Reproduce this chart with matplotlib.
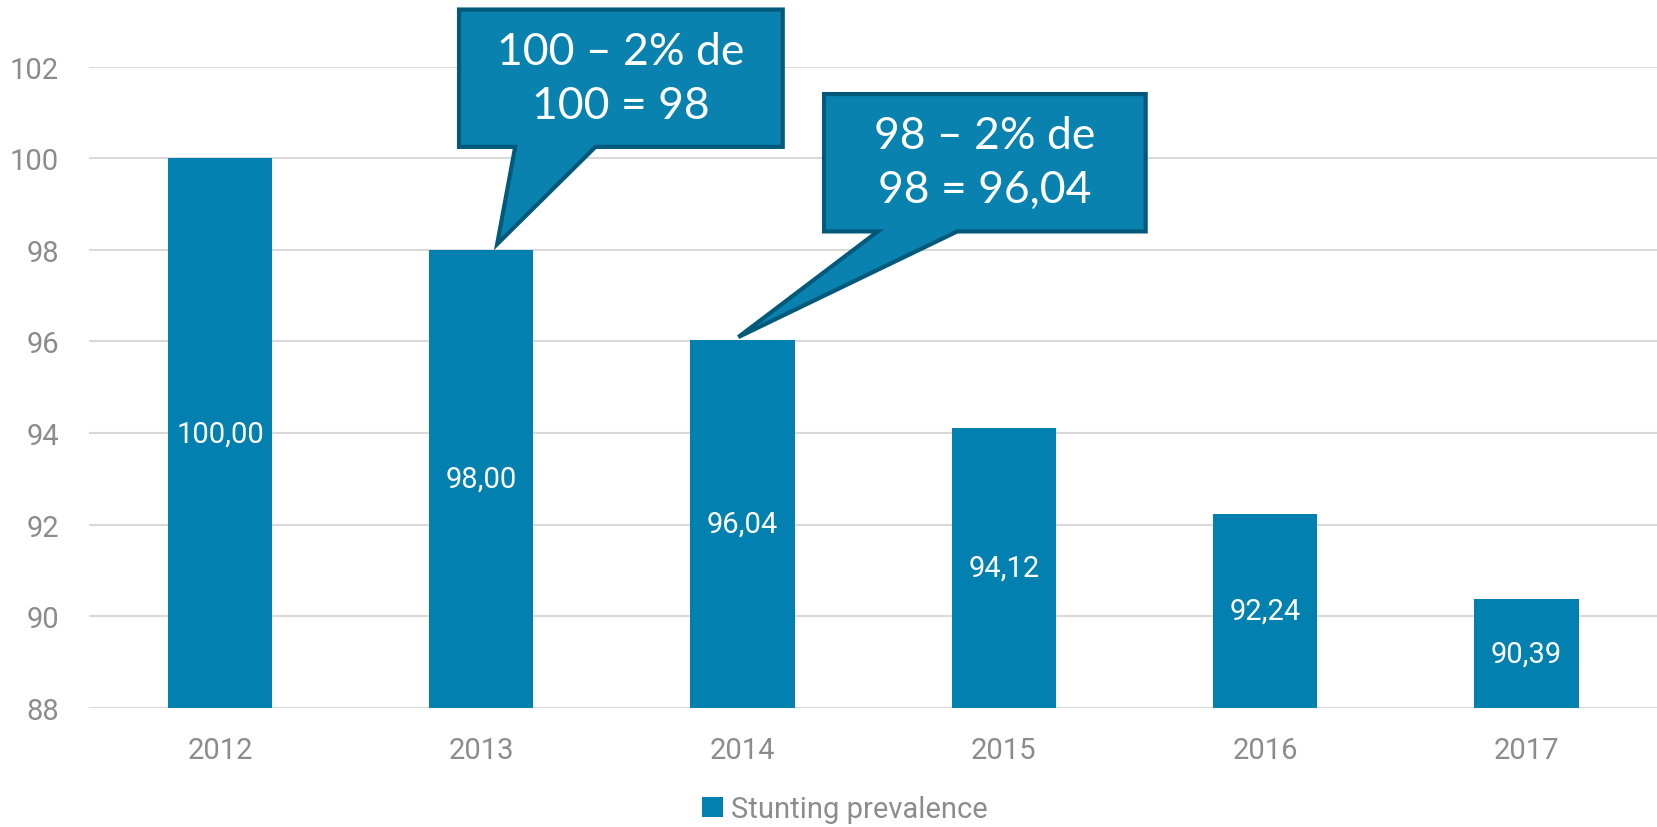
import matplotlib
matplotlib.use("Agg")
import matplotlib.pyplot as plt
from matplotlib.patches import Polygon

years = ["2012", "2013", "2014", "2015", "2016", "2017"]
values = [100.00, 98.00, 96.04, 94.12, 92.24, 90.39]
labels = ["100,00", "98,00", "96,04", "94,12", "92,24", "90,39"]
yticks = [88, 90, 92, 94, 96, 98, 100, 102]
series_name = "Stunting prevalence"
callout_texts = ["100 \u2013 2% de\n100 = 98", "98 \u2013 2% de\n98 = 96,04"]

bar_color = "#0281B0"
call_fill = "#0982AF"
call_edge = "#03597A"
grid_color = "#D9D9D9"
tick_color = "#8C8C8C"
main_font = ["Roboto", "DejaVu Sans"]
call_font = ["Lato", "DejaVu Sans"]

fig = plt.figure(figsize=(16.57, 8.28), dpi=100)
ax = fig.add_axes([0.0539, 0.1437, 0.9461, 0.7747])
x = list(range(len(years)))
ax.bar(x, [v - 88 for v in values], bottom=88, width=0.4, color=bar_color,
       label=series_name, zorder=3)
ax.set_xlim(-0.5, len(years) - 0.5)
ax.set_ylim(88, 102)
ax.set_yticks(yticks)
ax.set_yticklabels([str(t) for t in yticks])
ax.set_xticks(x)
ax.set_xticklabels(years)
for s in ax.spines.values():
    s.set_visible(False)
ax.yaxis.grid(True, color=grid_color, linewidth=1.5, zorder=0)
ax.tick_params(axis="both", length=0, labelsize=21, labelcolor=tick_color)
ax.tick_params(axis="y", pad=22)
ax.tick_params(axis="x", pad=20)
for lab in ax.get_yticklabels() + ax.get_xticklabels():
    lab.set_family(main_font)

for xi, v, lab in zip(x, values, labels):
    ax.text(xi, (88 + v) / 2, lab, ha="center", va="center", color="white",
            fontsize=21, family=main_font, zorder=4)

# callouts (box corners + pointer base + tip) in data coords
callouts = [
    dict(box=(0.915, 2.154, 100.247, 103.245), base=(1.13, 1.437), tip=(1.061, 98.125)),
    dict(box=(2.312, 3.543, 98.402, 101.40), base=(2.518, 2.822), tip=(1.984, 96.096)),
]
for c, txt in zip(callouts, callout_texts):
    x0, x1, y0, y1 = c["box"]
    b0, b1 = c["base"]
    tx, ty = c["tip"]
    pts = [(x0, y0), (x0, y1), (x1, y1), (x1, y0), (b1, y0), (tx, ty), (b0, y0)]
    poly = Polygon(pts, closed=True, facecolor=call_fill, edgecolor=call_edge,
                   linewidth=3, clip_on=False, zorder=6, joinstyle="miter")
    ax.add_patch(poly)
    ax.text((x0 + x1) / 2, (y0 + y1) / 2, txt, ha="center", va="center",
            color="white", fontsize=32, family=call_font, linespacing=1.4,
            zorder=7, clip_on=False)

leg = fig.legend(loc="center", bbox_to_anchor=(0.51, 0.0215), frameon=False,
                 prop={"family": main_font, "size": 21},
                 handlelength=0.7, handleheight=0.7, handletextpad=0.3,
                 borderaxespad=0, borderpad=0)
for t in leg.get_texts():
    t.set_color(tick_color)

fig.savefig("out.png", dpi=100)
